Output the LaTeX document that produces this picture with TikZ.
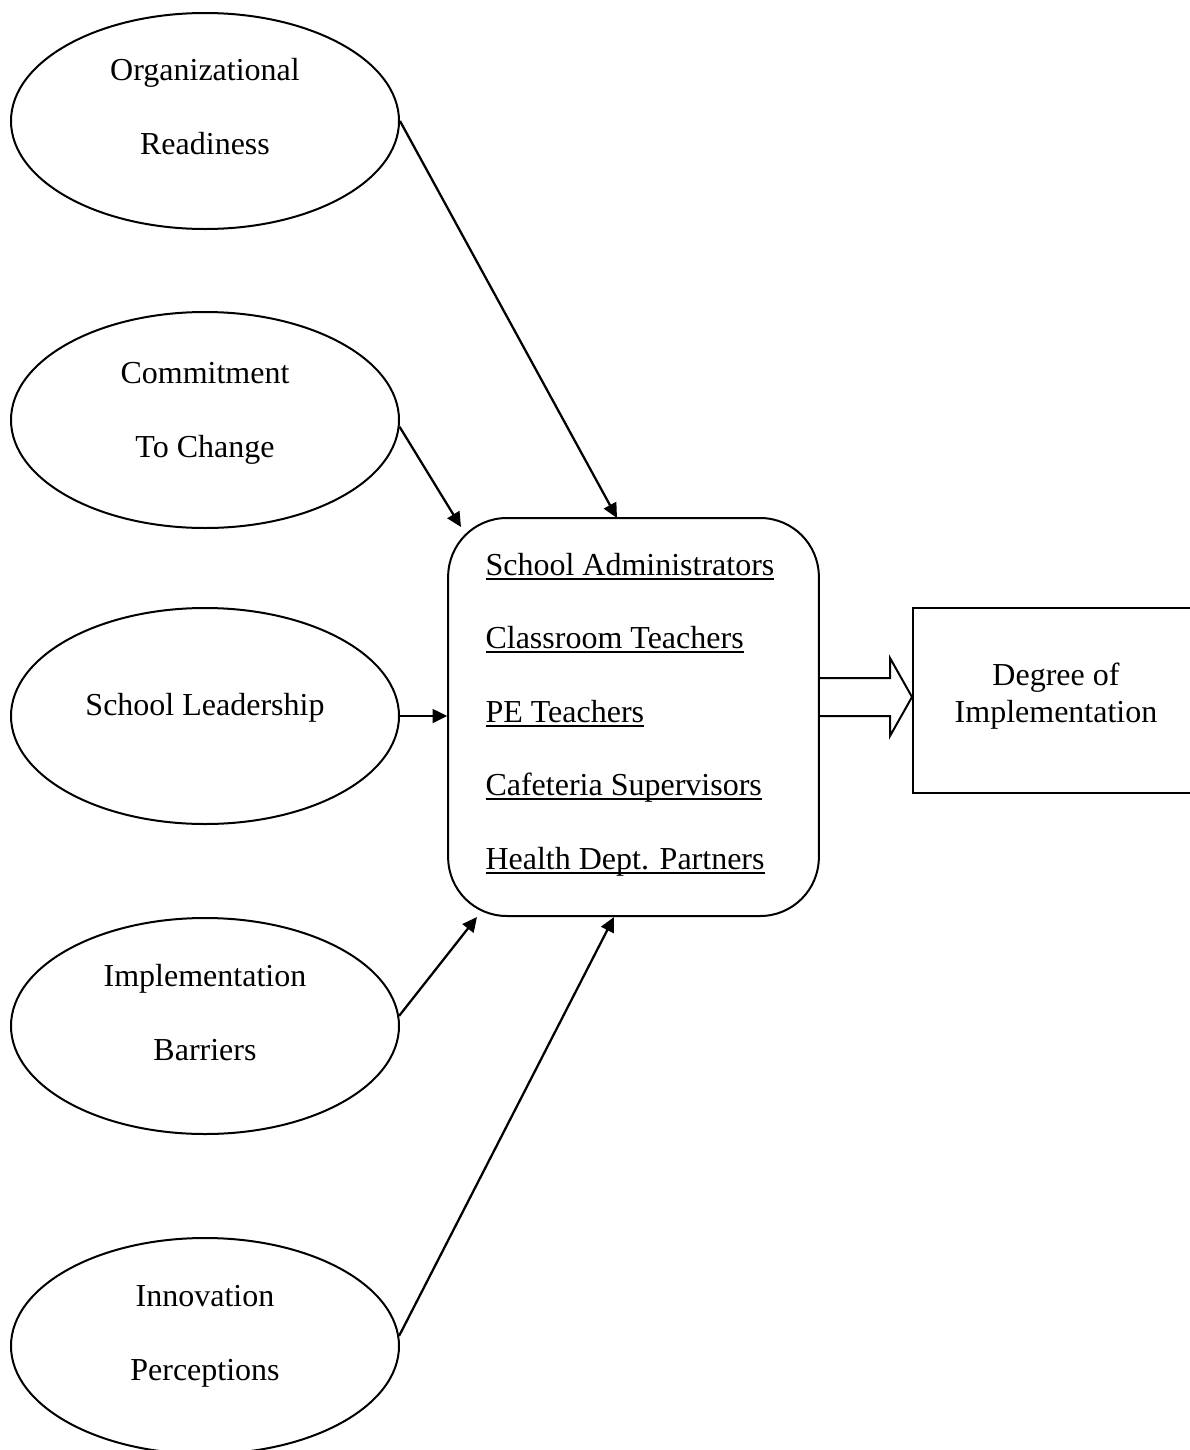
\documentclass[tikz,border=0pt]{standalone}
\usepackage{fontspec}
\setmainfont{Liberation Serif}
\usetikzlibrary{shapes.geometric,arrows.meta}
\newcommand{\myul}[1]{\setbox0\hbox{#1}\rlap{\rule[-1.7pt]{\wd0}{0.75pt}}\box0}
\begin{document}
\begin{tikzpicture}[x=0.375pt,y=-0.375pt,
  every node/.style={font=\fontsize{12}{14}\selectfont, inner sep=0pt},
  oval/.style={draw, ellipse, line width=0.75pt, minimum width=145.5pt, minimum height=81pt},
  lbl/.style={anchor=base},
  item/.style={anchor=base west},
  arr/.style={line width=0.85pt, -{Triangle[length=5.5pt,width=5.2pt]}},
  hollow/.style={line width=0.75pt, line join=miter}]
\useasboundingbox (0,0) rectangle (1190,1450);
\clip (0,0) rectangle (1190,1450);

% ellipses
\node[oval] (e1) at (205,121) {};
\node[lbl] (e1a) at (205,80) {Organizational};
\node[lbl] (e1b) at (205,154) {Readiness};

\node[oval] (e2) at (205,420) {};
\node[lbl] (e2a) at (205,383) {Commitment};
\node[lbl] (e2b) at (205,457) {To Change};

\node[oval] (e3) at (205,716) {};
\node[lbl] (e3a) at (205,715) {School Leadership};

\node[oval] (e4) at (205,1026) {};
\node[lbl] (e4a) at (205,986) {Implementation};
\node[lbl] (e4b) at (205,1060) {Barriers};

\node[oval] (e5) at (205,1346) {};
\node[lbl] (e5a) at (205,1306) {Innovation};
\node[lbl] (e5b) at (205,1380) {Perceptions};

% central box
\node[draw, line width=0.75pt, rounded corners=22pt, minimum width=139pt, minimum height=149.25pt] (box) at (633.5,717) {};
\node[item] (i1) at (485,575) {\myul{School Administrators}};
\node[item] (i2) at (485,648) {\myul{Classroom Teachers}};
\node[item] (i3) at (485,722) {\myul{PE Teachers}};
\node[item] (i4) at (485,795) {\myul{Cafeteria Supervisors}};
\node[item] (i5) at (485,869) {\myul{Health Dept. Partners}};

% outcome box
\node[draw, line width=0.75pt, minimum width=107.25pt, minimum height=69.4pt] (deg) at (1056,700.5) {};
\node[lbl] (d1) at (1056,685) {Degree of};
\node[lbl] (d2) at (1056,722) {Implementation};

% hollow arrow
\draw[hollow] (box.east |- 0,678) -- (890,678) -- (890,658) -- (deg.west |- 0,697)
  -- (890,736) -- (890,716) -- (box.east |- 0,716);

% arrow tips
\coordinate (t1) at (617,518);
\coordinate (t2) at (461,527);
\coordinate (t4) at (477,917);
\coordinate (t5) at (614,917);

\draw[arr] (e1.east) -- (t1);
\draw[arr] (e2.-2) -- (t2);
\draw[arr] (e3.east) -- (e3.east -| box.west);
\draw[arr] (e4.3) -- (t4);
\draw[arr] (e5.3) -- (t5);
\end{tikzpicture}
\end{document}
